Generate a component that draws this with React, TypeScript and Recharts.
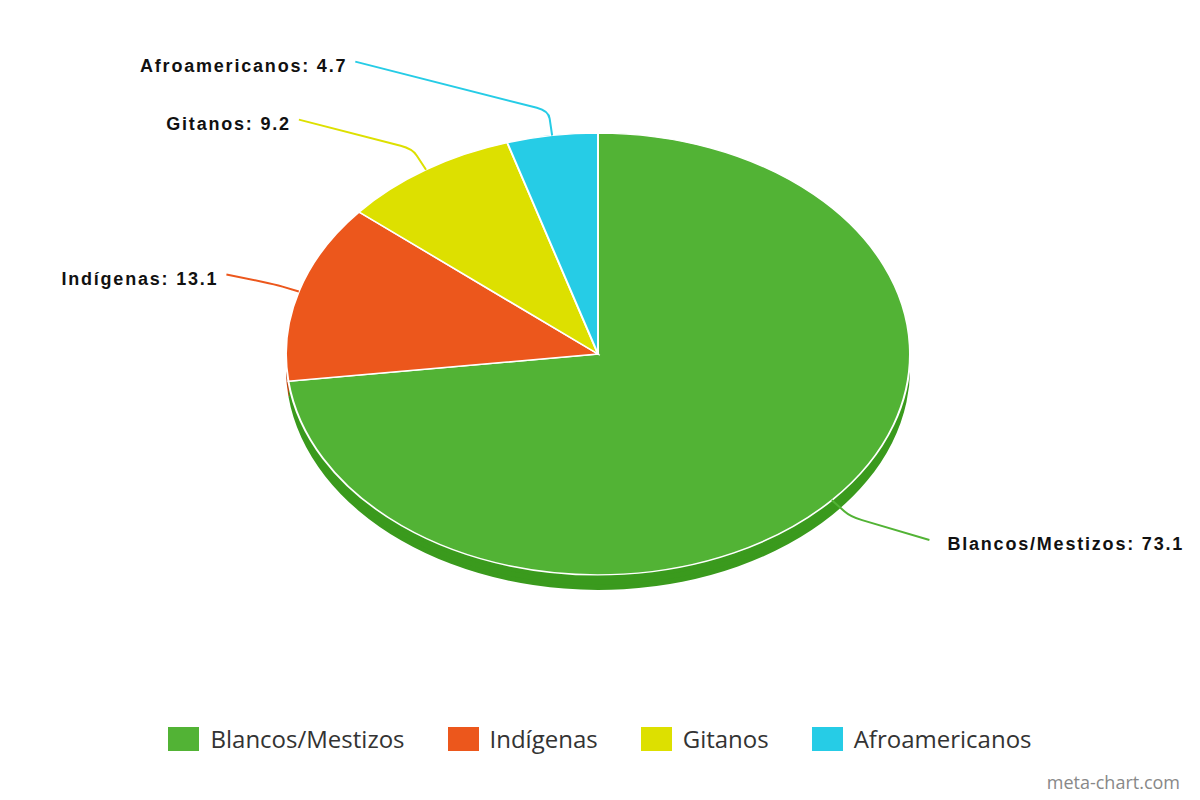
import { PieChart, Pie, Cell, Legend } from "recharts";

const categories = ["Blancos/Mestizos", "Indígenas", "Gitanos", "Afroamericanos"];
const values = [73.1, 13.1, 9.2, 4.7];
const colors = ["#52b335", "#ec571c", "#dde000", "#26cce6"];
const sideColors = ["#3a9a1d", "#c4430f", "#b5b800", "#1ba6bd"];

const data = categories.map((name, i) => ({ name, value: values[i] }));

// pie is drawn as a circle and squashed into an ellipse with css
const CX = 598;
const CY = 354;
const R = 312;
const SQUASH = 0.708;
const DEPTH = 15;
const LABEL_R = 380;
const LABEL_GAP = 58;
const START = 90;

// label heights, pushed apart so that neighbours on one side don't crowd
const labelYs = (() => {
  const total = values.reduce((a, b) => a + b, 0);
  let a = START;
  const items = values.map((v, i) => {
    const sweep = (v / total) * 360;
    const mid = a - sweep / 2;
    a -= sweep;
    const rad = (mid * Math.PI) / 180;
    const uy = -Math.sin(rad);
    return { i, left: Math.cos(rad) < 0, y: CY + (R * SQUASH + 60) * uy };
  });
  const ys: number[] = items.map((it) => it.y);
  [true, false].forEach((left) => {
    const side = items.filter((it) => it.left === left).sort((p, q) => q.y - p.y);
    for (let k = 1; k < side.length; k++) {
      const below = ys[side[k - 1].i];
      if (below - ys[side[k].i] < LABEL_GAP) ys[side[k].i] = below - LABEL_GAP;
    }
  });
  return ys;
})();

const renderLabel = (props: any) => {
  const { cx, cy, midAngle, outerRadius, name, value, index } = props;
  const rad = (midAngle * Math.PI) / 180;
  const ux = Math.cos(rad);
  const uy = -Math.sin(rad);
  const ry = outerRadius * SQUASH;
  const px = cx + outerRadius * ux;
  const py = cy + ry * uy;
  const qx = px + 25 * ux;
  const qy = py + 25 * uy;
  const ey = labelYs[index];
  const side = ux >= 0 ? 1 : -1;
  const ex = cx + side * Math.sqrt(LABEL_R * LABEL_R - (ey - cy) * (ey - cy));
  // round the elbow a bit
  const d1 = Math.hypot(qx - px, qy - py);
  const ax = qx - ((qx - px) / d1) * 8;
  const ay = qy - ((qy - py) / d1) * 8;
  const d2 = Math.hypot(ex - qx, ey - qy);
  const bx = qx + ((ex - qx) / d2) * 12;
  const by = qy + ((ey - qy) / d2) * 12;
  const color = colors[index % colors.length];
  return (
    <g>
      <path
        d={`M${px},${py} L${ax},${ay} Q${qx},${qy} ${bx},${by} L${ex},${ey}`}
        stroke={color}
        strokeWidth={2}
        fill="none"
      />
      <text
        x={side > 0 ? ex + 18 : ex - 8}
        y={ey + 10.5}
        textAnchor={side > 0 ? "start" : "end"}
        fill="#111"
        fontSize={18}
        fontWeight="bold"
        letterSpacing={1.8}
        fontFamily="'Liberation Sans', Arial, sans-serif"
      >
        {`${name}: ${value}`}
      </text>
    </g>
  );
};

const renderLegend = () => (
  <div style={{ display: "flex", justifyContent: "center", alignItems: "center", gap: 43 }}>
    {categories.map((c, i) => (
      <div key={c} style={{ display: "flex", alignItems: "center" }}>
        <span
          style={{ display: "inline-block", width: 31, height: 24, background: colors[i], marginRight: 11 }}
        />
        <span style={{ fontSize: 24, color: "#333", fontFamily: "'Open Sans', sans-serif" }}>{c}</span>
      </div>
    ))}
  </div>
);

const depthSteps = [DEPTH, DEPTH * 0.66, DEPTH * 0.33];

const App = () => {
  return (
    <div style={{ position: "absolute", left: 0, top: 0, width: 1200, height: 800, background: "#fff" }}>
      <style>{`
        .pie3d path.recharts-sector {
          transform-origin: ${CX}px ${CY}px;
          transform: scaleY(${SQUASH});
        }
      `}</style>
      <PieChart
        width={1200}
        height={800}
        className="pie3d"
        margin={{ top: 0, right: 0, bottom: 0, left: 0 }}
      >
        {depthSteps.map((off) => (
          <Pie
            key={off}
            data={data}
            dataKey="value"
            nameKey="name"
            cx={CX}
            cy={CY + off / SQUASH}
            outerRadius={R}
            startAngle={START}
            endAngle={START - 360}
            stroke="none"
            legendType="none"
            label={false}
            labelLine={false}
            isAnimationActive={false}
          >
            {data.map((d, i) => (
              <Cell key={d.name} fill={sideColors[i]} />
            ))}
          </Pie>
        ))}
        <Pie
          data={data}
          dataKey="value"
          nameKey="name"
          cx={CX}
          cy={CY}
          outerRadius={R}
          startAngle={START}
          endAngle={START - 360}
          stroke="#fff"
          strokeWidth={2}
          label={renderLabel}
          labelLine={false}
          isAnimationActive={false}
        >
          {data.map((d, i) => (
            <Cell key={d.name} fill={colors[i]} />
          ))}
        </Pie>
        <Legend
          content={renderLegend}
          wrapperStyle={{ position: "absolute", top: 722, left: 0, width: 1200 }}
        />
      </PieChart>
      <div
        style={{
          position: "absolute",
          right: 20,
          top: 770,
          fontSize: 18,
          color: "#888",
          fontFamily: "'Open Sans', sans-serif",
        }}
      >
        meta-chart.com
      </div>
    </div>
  );
};

export default App;
